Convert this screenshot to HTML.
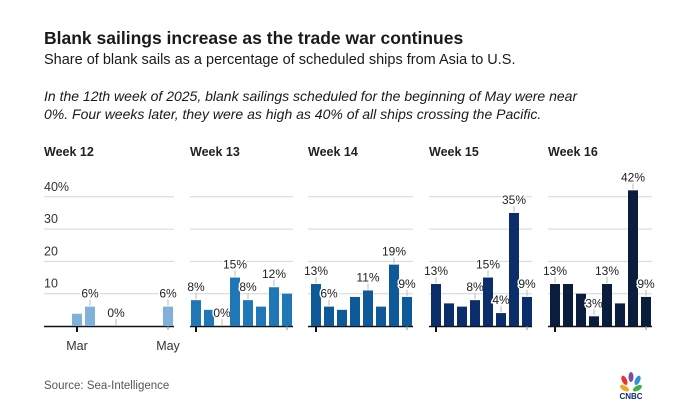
<!DOCTYPE html>
<html><head><meta charset="utf-8"><style>
body{margin:0;background:#fff;font-family:"Liberation Sans",sans-serif;}
svg{display:block}
</style></head><body>
<svg id="c" width="690" height="416" xmlns="http://www.w3.org/2000/svg">
<text x="44" y="44" font-size="17.5" font-weight="bold" fill="#1a1a1a">Blank sailings increase as the trade war continues</text>
<text x="44" y="64" font-size="14.5" fill="#1a1a1a">Share of blank sails as a percentage of scheduled ships from Asia to U.S.</text>
<text x="44" y="101" font-size="14" font-style="italic" fill="#1a1a1a">In the 12th week of 2025, blank sailings scheduled for the beginning of May were near</text>
<text x="44" y="119" font-size="14" font-style="italic" fill="#1a1a1a">0%. Four weeks later, they were as high as 40% of all ships crossing the Pacific.</text>
<g id="plots"></g>
<text x="44" y="389" font-size="11.5" fill="#555">Source: Sea-Intelligence</text>
<g>
<ellipse cx="625" cy="381" rx="2.5" ry="5" fill="#f5a623" transform="rotate(-60 631 385)"/>
<ellipse cx="627" cy="378" rx="2.5" ry="5" fill="#e8342d" transform="rotate(-25 631 385)"/>
<ellipse cx="631" cy="377" rx="2.5" ry="5" fill="#7a4fa0"/>
<ellipse cx="635" cy="378" rx="2.5" ry="5" fill="#2f8fd8" transform="rotate(25 631 385)"/>
<ellipse cx="637" cy="381" rx="2.5" ry="5" fill="#43b04a" transform="rotate(60 631 385)"/>
<text x="631" y="399" font-size="8" font-weight="bold" fill="#0b2d6b" text-anchor="middle">CNBC</text>
</g>
</svg>
<script>
const weeks = ["Week 12","Week 13","Week 14","Week 15","Week 16"];
const week12 = [3.8, 6, null, 0, null, null, null, 6];
const week13 = [8, 5, 0, 15, 8, 6, 12, 10];
const week14 = [13, 6, 5, 9, 11, 6, 19, 9];
const week15 = [13, 7, 6, 8, 15, 4, 35, 9];
const week16 = [13, 13, 10, 3, 13, 7, 42, 9];
const labels12 = [null, "6%", null, "0%", null, null, null, "6%"];
const labels13 = ["8%", null, "0%", "15%", "8%", null, "12%", null];
const labels14 = ["13%", "6%", null, null, "11%", null, "19%", "9%"];
const labels15 = ["13%", null, null, "8%", "15%", "4%", "35%", "9%"];
const labels16 = ["13%", null, null, "3%", "13%", null, "42%", "9%"];
const yTicks = [10, 20, 30, 40];
const yTickLabels = ["10", "20", "30", "40%"];
const xTickLabels = ["Mar", "May"];

const series = [week12, week13, week14, week15, week16];
const labels = [labels12, labels13, labels14, labels15, labels16];
const colors = ["#80b1db", "#2077b8", "#0e5a98", "#0b2d69", "#0b1d3c"];
const panelX0 = [44, 190, 308, 429, 548];
const panelX1 = [174, 293, 413, 532, 652];
const slotX0 = [72, 191, 311, 431, 550];
const base = 326, per10 = 32.3, pitch = 13, bw = 10;
const y = v => base - v / 10 * per10;
const NS = "http://www.w3.org/2000/svg";
const g = document.getElementById("plots");
function mk(tag, attrs, txt){const e=document.createElementNS(NS,tag);for(const k in attrs)e.setAttribute(k,attrs[k]);if(txt!=null)e.textContent=txt;g.appendChild(e);return e;}

weeks.forEach((w,p)=>{
  const t = mk("text",{x:panelX0[p],y:156,"font-size":12.5,"font-weight":"bold",fill:"#222"},w);
  
  
  yTicks.forEach(v=>{
    const l = mk("line",{x1:panelX0[p],x2:panelX1[p],y1:y(v),y2:y(v),stroke:"#d6d6d6","stroke-width":1});
    
    
  });
  const ax = mk("line",{x1:panelX0[p],x2:panelX1[p],y1:base+0.5,y2:base+0.5,stroke:"#111","stroke-width":1.5});
  
  
  [0,7].forEach((s,i)=>{
    const cx = slotX0[p] + s*pitch + bw/2;
    const tk = mk("line",{x1:cx,x2:cx,y1:base,y2:base+(i==0?6:4),stroke:i==0?"#111":"#888","stroke-width":i==0?2:1});
    
    
  });
  series[p].forEach((v,s)=>{
    if(v==null) return;
    const x = slotX0[p] + s*pitch;
    if(v>0){
      const r = mk("rect",{x:x,y:y(v),width:bw,height:base-y(v),fill:colors[p]});
      
      
    }
    const lb = labels[p][s];
    if(lb){
      const ty = y(v) - 9;
      const ln = mk("line",{x1:x+bw/2,x2:x+bw/2,y1:ty+2,y2:y(v)-1,stroke:"#bbb","stroke-width":1});
      
      
      const tt = mk("text",{x:x+bw/2,y:ty,"font-size":12,fill:"#222","text-anchor":"middle",stroke:"#fff","stroke-width":3,"paint-order":"stroke"},lb);
      
      
    }
  });
});
yTicks.forEach((v,i)=>{
  const t = mk("text",{x:44,y:y(v)-6,"font-size":12.5,fill:"#333"},yTickLabels[i]);
  
  
});
xTickLabels.forEach((lbl,i)=>{
  const cx = slotX0[0] + (i==0?0:7)*pitch + bw/2;
  const t = mk("text",{x:cx,y:350,"font-size":12.5,fill:"#333","text-anchor":"middle"},lbl);
  
  
});
</script>
</body></html>
